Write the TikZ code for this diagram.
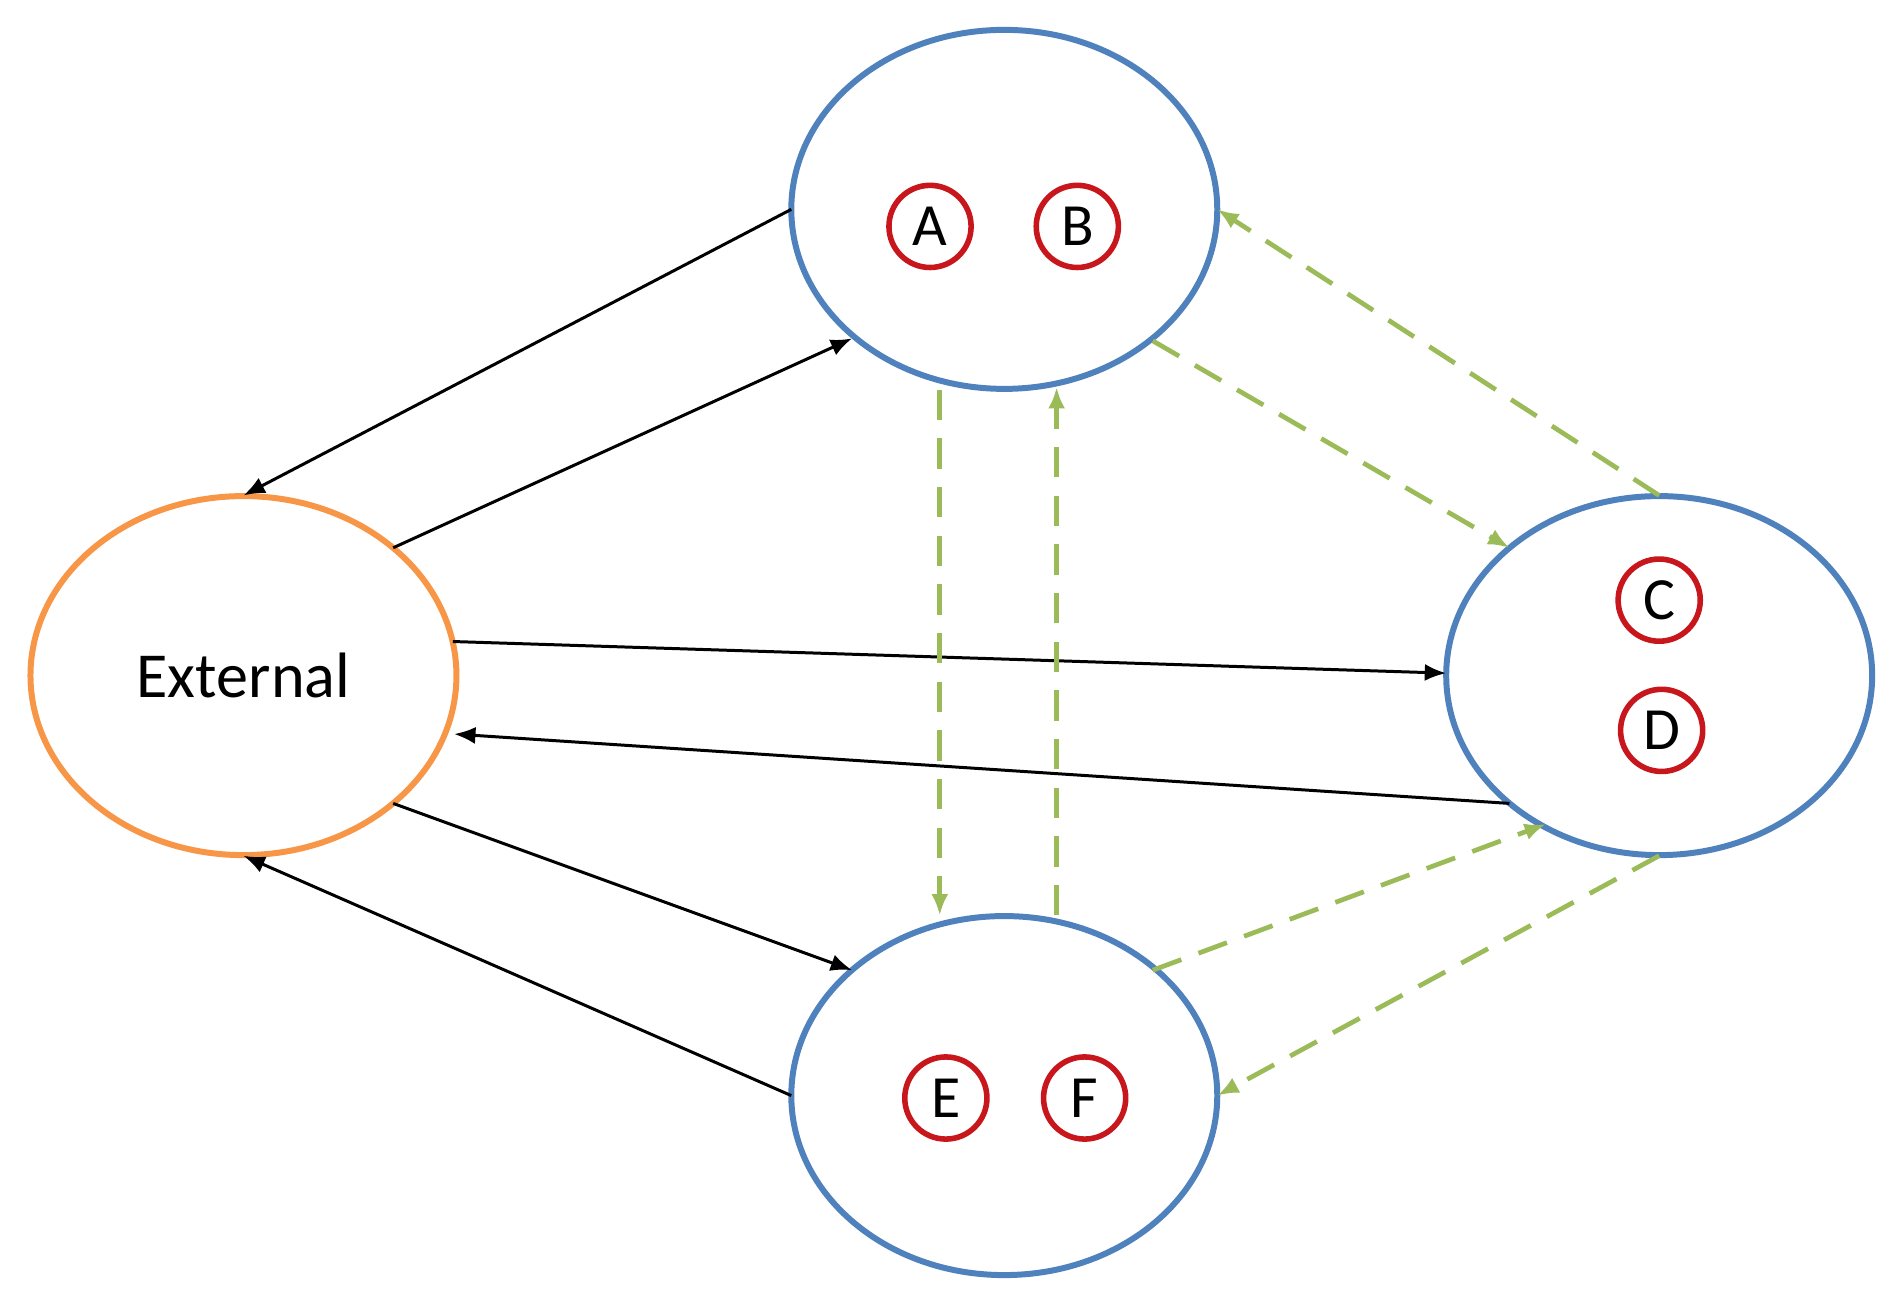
\documentclass[tikz,border=0pt]{standalone}
\usepackage{fontspec}
\setmainfont{Carlito}
\usetikzlibrary{arrows.meta}
\definecolor{bl}{HTML}{4F81BD}
\definecolor{orr}{HTML}{F79646}
\definecolor{rd}{HTML}{C8161D}
\definecolor{gr}{HTML}{9BBB59}
\begin{document}
\begin{tikzpicture}[x=0.02cm,y=-0.02cm,
 big/.style={draw=bl,line width=2.8pt,ellipse,minimum width=7cm,minimum height=5.9cm,inner sep=0},
 sm/.style={draw=rd,line width=2.6pt,circle,minimum size=1.35cm,inner sep=0,font=\fontsize{28}{30}\selectfont},
 blk/.style={line width=1.4pt,-{Latex[length=10pt,width=8pt]}},
 grn/.style={draw=gr,line width=2.2pt,dash pattern=on 0.5cm off 0.3cm,-{Latex[length=10pt,width=8pt]}}]
\useasboundingbox (0,0) rectangle (1560,1071);
\usetikzlibrary{shapes.geometric}
\node[big] (T) at (825,172) {};
\node[big,draw=orr,font=\fontsize{30}{32}\selectfont] (X) at (200,555) {External};
\node[big] (R) at (1363,555) {};
\node[big] (B) at (825,900) {};
\node[sm] (a) at (764,186) {A};
\node[sm] (b) at (885,186) {B};
\node[sm] (c) at (1363,493) {C};
\node[sm] (d) at (1365,600) {D};
\node[sm] (e) at (777,902) {E};
\node[sm] (f) at (891,902) {F};
\coordinate (t1) at (650,172); \coordinate (x1) at (200,407);
\coordinate (x2) at (323,450); \coordinate (t2) at (700,278);
\coordinate (x3) at (372,527); \coordinate (r1) at (1188,553);
\coordinate (r2) at (1240,660); \coordinate (x4) at (373,603);
\coordinate (x5) at (323,660); \coordinate (b1) at (700,797);
\coordinate (b2) at (650,900); \coordinate (x6) at (200,703);
\coordinate (r3) at (1363,407); \coordinate (t3) at (1000,172);
\coordinate (t4) at (947,280); \coordinate (r4) at (1240,450);
\coordinate (t5) at (772,320); \coordinate (b3) at (772,752);
\coordinate (b4) at (868,752); \coordinate (t6) at (868,318);
\coordinate (b5) at (947,797); \coordinate (r5) at (1270,677);
\coordinate (r6) at (1363,703); \coordinate (b6) at (1000,900);
\draw[blk] (t1) -- (x1);
\draw[blk] (x2) -- (t2);
\draw[blk] (x3) -- (r1);
\draw[blk] (r2) -- (x4);
\draw[blk] (x5) -- (b1);
\draw[blk] (b2) -- (x6);
\draw[grn] (r3) -- (t3);
\draw[grn] (t4) -- (r4);
\draw[grn] (t5) -- (b3);
\draw[grn] (b4) -- (t6);
\draw[grn] (b5) -- (r5);
\draw[grn] (r6) -- (b6);
\end{tikzpicture}
\end{document}
